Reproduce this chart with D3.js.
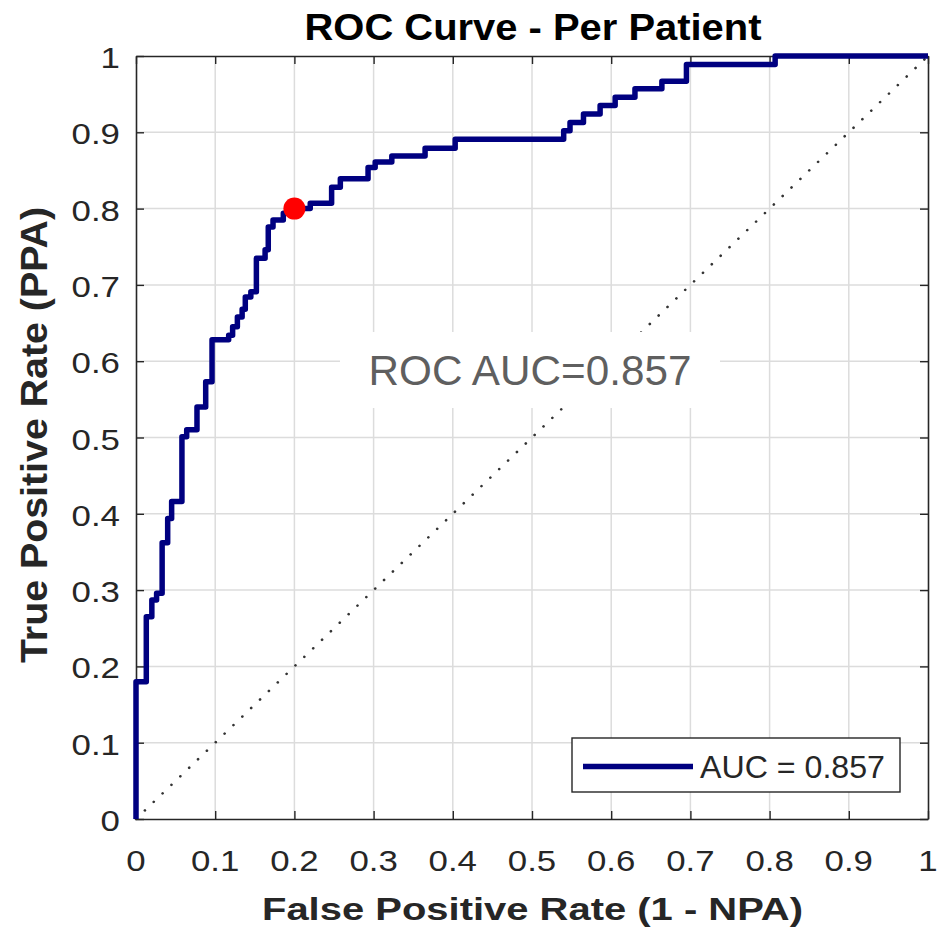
<!DOCTYPE html>
<html>
<head>
<meta charset="utf-8">
<script src="https://cdn.jsdelivr.net/npm/d3@7"></script>
<style>
  html, body { margin: 0; padding: 0; background: #fff; }
  svg { display: block; font-family: "Liberation Sans", Arial, Helvetica, sans-serif; }
</style>
</head>
<body>
<svg id="chart" width="940" height="928"></svg>
<script>
// ---- data ----
const chartTitle = "ROC Curve - Per Patient";
const xLabel = "False Positive Rate (1 - NPA)";
const yLabel = "True Positive Rate (PPA)";
const annotationText = "ROC AUC=0.857";
const legendLabel = "AUC = 0.857";
const tickValues = [0, 0.1, 0.2, 0.3, 0.4, 0.5, 0.6, 0.7, 0.8, 0.9, 1];
const tickLabels = ["0", "0.1", "0.2", "0.3", "0.4", "0.5", "0.6", "0.7", "0.8", "0.9", "1"];

// ROC staircase vertices (False Positive Rate, True Positive Rate)
const rocFPR = [0, 0, 0.013, 0.013, 0.02, 0.02, 0.026, 0.026, 0.033, 0.033, 0.04, 0.04, 0.045, 0.045,
  0.058, 0.058, 0.064, 0.064, 0.077, 0.077, 0.088, 0.088, 0.096, 0.096, 0.117, 0.117, 0.122, 0.122,
  0.128, 0.128, 0.134, 0.134, 0.138, 0.138, 0.145, 0.145, 0.152, 0.152, 0.163, 0.163, 0.167, 0.167,
  0.173, 0.173, 0.186, 0.186, 0.195, 0.195, 0.22, 0.22, 0.247, 0.247, 0.258, 0.258, 0.293, 0.293,
  0.302, 0.302, 0.323, 0.323, 0.365, 0.365, 0.403, 0.403, 0.54, 0.54, 0.548, 0.548, 0.565, 0.565,
  0.586, 0.586, 0.605, 0.605, 0.63, 0.63, 0.664, 0.664, 0.695, 0.695, 0.807, 0.807, 1];
const rocTPR = [0, 0.18, 0.18, 0.265, 0.265, 0.287, 0.287, 0.296, 0.296, 0.362, 0.362, 0.394, 0.394, 0.416,
  0.416, 0.501, 0.501, 0.51, 0.51, 0.54, 0.54, 0.573, 0.573, 0.628, 0.628, 0.634, 0.634, 0.645,
  0.645, 0.658, 0.658, 0.668, 0.668, 0.684, 0.684, 0.691, 0.691, 0.735, 0.735, 0.746, 0.746, 0.776,
  0.776, 0.785, 0.785, 0.794, 0.794, 0.8, 0.8, 0.807, 0.807, 0.828, 0.828, 0.839, 0.839, 0.854,
  0.854, 0.861, 0.861, 0.869, 0.869, 0.879, 0.879, 0.891, 0.891, 0.902, 0.902, 0.913, 0.913, 0.924,
  0.924, 0.935, 0.935, 0.946, 0.946, 0.957, 0.957, 0.967, 0.967, 0.989, 0.989, 1, 1];

const operatingPoint = { fpr: 0.2, tpr: 0.8 };
const chanceLine = [[0, 0], [1, 1]];

// ---- layout ----
const svg = d3.select("#chart");
const L = 136, R = 928, T = 56, B = 819;
const x = d3.scaleLinear().domain([0, 1]).range([L, R]);
const y = d3.scaleLinear().domain([0, 1]).range([B, T]);

svg.append("rect").attr("width", 940).attr("height", 928).attr("fill", "#fff");
svg.append("rect").attr("x", L).attr("y", T).attr("width", R - L).attr("height", B - T).attr("fill", "#fff");

// grid
const grid = svg.append("g");
grid.selectAll("line.gx").data(tickValues.slice(1, -1)).join("line")
  .attr("x1", d => x(d)).attr("x2", d => x(d)).attr("y1", T).attr("y2", B)
  .attr("stroke", "#dcdcdc").attr("stroke-width", 1.5);
grid.selectAll("line.gy").data(tickValues.slice(1, -1)).join("line")
  .attr("y1", d => y(d)).attr("y2", d => y(d)).attr("x1", L).attr("x2", R)
  .attr("stroke", "#dcdcdc").attr("stroke-width", 1.5);

// chance diagonal (dotted)
svg.append("path")
  .attr("d", d3.line().x(d => x(d[0])).y(d => y(d[1]))(chanceLine))
  .attr("fill", "none").attr("stroke", "#333").attr("stroke-width", 2.6)
  .attr("stroke-linecap", "round")
  .attr("stroke-dasharray", "0.1,12.2");

// annotation with white background
const annX = x(0.5), annY = 385;
svg.append("rect").attr("x", 340).attr("y", 332).attr("width", 380).attr("height", 76).attr("fill", "#fff");
svg.append("text").attr("x", annX - 2).attr("y", annY).attr("text-anchor", "middle")
  .attr("font-size", 42).attr("fill", "#5f5f5f").attr("textLength", 323).attr("lengthAdjust", "spacingAndGlyphs")
  .text(annotationText);

// axes
const axisColor = "#262626";
const tickLen = 8;
const xAxisB = d3.axisBottom(x).tickValues(tickValues).tickFormat("").tickSizeInner(-tickLen).tickSizeOuter(0);
const xAxisT = d3.axisTop(x).tickValues(tickValues).tickFormat("").tickSizeInner(-tickLen).tickSizeOuter(0);
const yAxisL = d3.axisLeft(y).tickValues(tickValues).tickFormat("").tickSizeInner(-tickLen).tickSizeOuter(0);
const yAxisR = d3.axisRight(y).tickValues(tickValues).tickFormat("").tickSizeInner(-tickLen).tickSizeOuter(0);
const axes = [
  svg.append("g").attr("transform", `translate(0,${B})`).call(xAxisB),
  svg.append("g").attr("transform", `translate(0,${T})`).call(xAxisT),
  svg.append("g").attr("transform", `translate(${L},0)`).call(yAxisL),
  svg.append("g").attr("transform", `translate(${R},0)`).call(yAxisR)
];
axes.forEach(g => {
  g.selectAll("path.domain").attr("stroke", axisColor).attr("stroke-width", 1.6);
  g.selectAll(".tick line").attr("stroke", axisColor).attr("stroke-width", 1.4);
});

// tick labels
const tickFont = 29, tickStretch = 1.2;
function stretch(sel) {
  sel.each(function () {
    const w = this.getComputedTextLength();
    d3.select(this).attr("textLength", w * tickStretch).attr("lengthAdjust", "spacingAndGlyphs");
  });
}
svg.append("g").selectAll("text").data(tickValues).join("text")
  .attr("x", d => x(d)).attr("y", 871).attr("text-anchor", "middle")
  .attr("font-size", tickFont).attr("fill", axisColor)
  .text((d, i) => tickLabels[i]).call(stretch);
svg.append("g").selectAll("text").data(tickValues).join("text")
  .attr("x", 120).attr("y", d => y(d) + 12).attr("text-anchor", "end")
  .attr("font-size", tickFont).attr("fill", axisColor)
  .text((d, i) => tickLabels[i]).call(stretch);

// ROC curve
const rocPts = rocFPR.map((f, i) => [f, rocTPR[i]]);
svg.append("path")
  .attr("d", d3.line().x(d => x(d[0])).y(d => y(d[1]))(rocPts))
  .attr("fill", "none").attr("stroke", "#000080").attr("stroke-width", 5.5)
  .attr("stroke-linejoin", "round").attr("stroke-linecap", "butt");

// operating point
svg.append("circle").attr("cx", x(operatingPoint.fpr)).attr("cy", y(operatingPoint.tpr))
  .attr("r", 11).attr("fill", "#ff0000");

// legend
const lg = svg.append("g");
lg.append("rect").attr("x", 572).attr("y", 738).attr("width", 328).attr("height", 54)
  .attr("fill", "#fff").attr("stroke", axisColor).attr("stroke-width", 1.4);
lg.append("line").attr("x1", 583).attr("x2", 693).attr("y1", 766.5).attr("y2", 766.5)
  .attr("stroke", "#000080").attr("stroke-width", 5.5);
lg.append("text").attr("x", 700).attr("y", 778).attr("font-size", 32).attr("fill", axisColor)
  .attr("textLength", 185).attr("lengthAdjust", "spacingAndGlyphs").text(legendLabel);

// title & axis labels
svg.append("text").attr("x", 533).attr("y", 40).attr("text-anchor", "middle")
  .attr("font-size", 37).attr("font-weight", "bold").attr("fill", "#000")
  .attr("textLength", 457).attr("lengthAdjust", "spacingAndGlyphs").text(chartTitle);
svg.append("text").attr("x", 532.5).attr("y", 920).attr("text-anchor", "middle")
  .attr("font-size", 32).attr("font-weight", "bold").attr("fill", axisColor)
  .attr("textLength", 541).attr("lengthAdjust", "spacingAndGlyphs").text(xLabel);
svg.append("text").attr("transform", `translate(47,435) rotate(-90)`).attr("text-anchor", "middle")
  .attr("font-size", 37).attr("font-weight", "bold").attr("fill", axisColor)
  .attr("textLength", 456).attr("lengthAdjust", "spacingAndGlyphs").text(yLabel);
</script>
</body>
</html>
